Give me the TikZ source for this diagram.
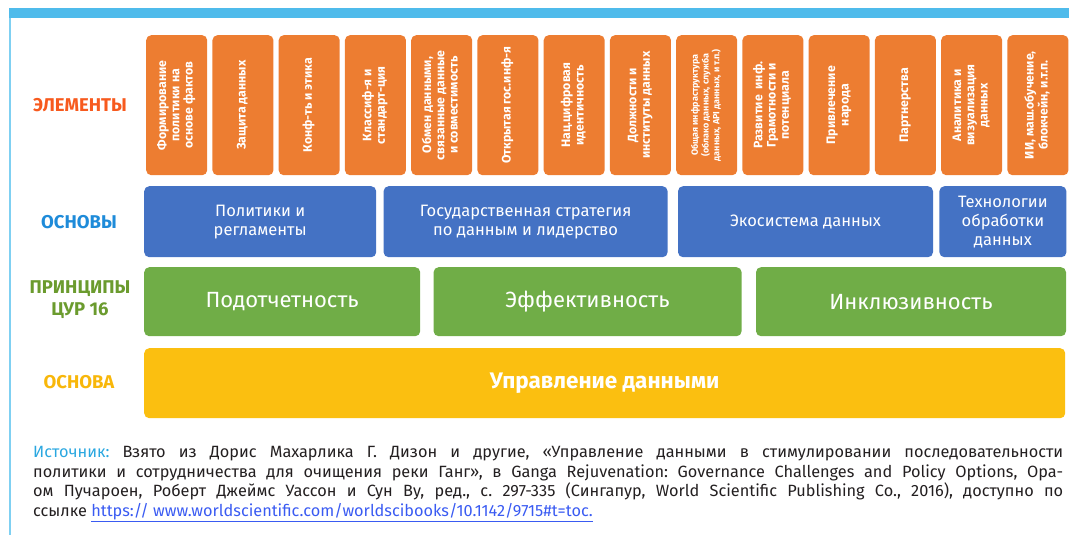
\documentclass[tikz,border=0pt]{standalone}
\usepackage{graphicx}
\usepackage{xcolor}
\usepackage{fontspec}
\setmainfont{Fira Sans}
\usepackage{tikz}
\usetikzlibrary{positioning}
\definecolor{skybar}{HTML}{4FBBEB}
\definecolor{skyline}{HTML}{7FD0F2}
\definecolor{elemorange}{HTML}{ED7D31}
\definecolor{foundblue}{HTML}{4472C4}
\definecolor{princgreen}{HTML}{70AD47}
\definecolor{baseyellow}{HTML}{FBBF10}
\definecolor{lblorange}{HTML}{F75A1E}
\definecolor{lblblue}{HTML}{1E8BD9}
\definecolor{lblgreen}{HTML}{6B9B2E}
\definecolor{lblyellow}{HTML}{F8B70A}
\definecolor{srcblue}{HTML}{2AA7E0}
\definecolor{srcink}{HTML}{231F20}
\definecolor{urlblue}{HTML}{3A5BF2}
\newcommand{\vlines}[1]{\rotatebox{90}{\begin{tabular}{@{}c@{}}#1\end{tabular}}}
\frenchspacing
\hyphenpenalty=10000
\tikzset{
  every node/.style={text=white,inner sep=0pt},
  tile/.style={rounded corners=5pt,align=center,inner sep=0pt},
  elem/.style={tile,fill=elemorange,minimum width=61pt,minimum height=140pt,font=\fontsize{12.3}{13.3}\selectfont\bfseries},
  found/.style={tile,fill=foundblue,minimum height=71pt,font=\fontsize{16.5}{19}\selectfont},
  princ/.style={tile,fill=princgreen,minimum height=69pt,font=\fontsize{22}{26}\selectfont},
  basebox/.style={tile,fill=baseyellow,minimum height=70pt,font=\fontsize{22.5}{26}\selectfont\bfseries},
  rowlabel/.style={font=\fontsize{18.5}{22}\selectfont\bfseries,align=center},
  cite/.style={text=srcink,text width=1030pt,align=justify,font=\fontsize{16.3}{19.6}\selectfont}
}
\begin{document}
\begin{tikzpicture}[x=1pt,y=-1pt,node distance=4.85pt]
  \useasboundingbox (0,0) rectangle (1069,535);
  % frame
  \fill[skybar] (9,8) rectangle (1069,18);
  \draw[skyline,line width=1.5pt] (9.75,18) -- (9.75,535);

  % elements
  \node[elem,anchor=north west] (e1) at (146,35) {\vlines{Формирование\\политики на\\основе фактов}};
  \node[elem,right=of e1] (e2) {\vlines{Защита данных}};
  \node[elem,right=of e2] (e3) {\vlines{Конф-ть и этика}};
  \node[elem,right=of e3] (e4) {\vlines{Классиф-я и\\стандарт-ция}};
  \node[elem,right=of e4] (e5) {\vlines{Обмен данными,\\связанные данные\\и совместимость}};
  \node[elem,right=of e5] (e6) {\vlines{Открытая гос.инф-я}};
  \node[elem,right=of e6] (e7) {\vlines{Нац.цифровая\\идентичность}};
  \node[elem,right=of e7] (e8) {\vlines{Должности и\\институты данных}};
  \node[elem,right=of e8,font=\fontsize{9}{10}\selectfont\bfseries] (e9) {\vlines{Общая инфраструктура\\(облако данных, служба\\данных, API данных, и т.п.)}};
  \node[elem,right=of e9] (e10) {\vlines{Развитие\ \ инф.\\Грамотности и\\потенциала}};
  \node[elem,right=of e10] (e11) {\vlines{Привлечение\\народа}};
  \node[elem,right=of e11] (e12) {\vlines{Партнерства}};
  \node[elem,right=of e12] (e13) {\vlines{Аналитика и\\визуализация\\данных}};
  \node[elem,right=of e13] (e14) {\vlines{ИИ, маш.обучение,\\блокчейн, и.т.п.}};

  % foundations
  \node[found,minimum width=232pt,anchor=north west] (f1) at (144,186) {Политики и\\регламенты};
  \node[found,minimum width=284pt,right=7pt of f1] (f2) {Государственная стратегия\\по данным и лидерство};
  \node[found,minimum width=255pt,right=10pt of f2] (f3) {Экосистема данных};
  \node[found,minimum width=127pt,right=6pt of f3] (f4) {Технологии\\обработки\\данных};

  % principles
  \node[princ,minimum width=276pt,anchor=north west] (p1) at (144,267) {Подотчетность};
  \node[princ,minimum width=308pt,right=13pt of p1] (p2) {Эффективность};
  \node[princ,minimum width=310pt,right=14pt of p2] (p3) {Инклюзивность};

  % base
  \node[basebox,minimum width=921pt,anchor=north west] (b1) at (144,348) {Управление данными};

  % row labels
  \node[rowlabel,text=lblorange] (lelem) at (80,105) {ЭЛЕМЕНТЫ};
  \node[rowlabel,text=lblblue] (lfound) at (79,222) {ОСНОВЫ};
  \node[rowlabel,text=lblgreen] (lprinc) at (80,300) {ПРИНЦИПЫ\\ЦУР 16};
  \node[rowlabel,text=lblyellow] (lbase) at (79,382) {ОСНОВА};

  % source
  \node[cite,anchor=north west] (source) at (33,446) {\textcolor{srcblue}{Источник:} Взято из Дорис Махарлика Г. Дизон и другие, «Управление данными в стимулировании последовательности\linebreak политики и сотрудничества для очищения реки Ганг», в Ganga Rejuvenation: Governance Challenges and Policy Options, Ора-\linebreak ом Пучароен, Роберт Джеймс Уассон и Сун Ву, ред., с. 297-335 (Сингапур, World Scientific Publishing Co., 2016), доступно по\linebreak ссылке \textcolor{urlblue}{\underline{https:// www.worldscientific.com/worldscibooks/10.1142/9715\#t=toc.}}};
\end{tikzpicture}
\end{document}
